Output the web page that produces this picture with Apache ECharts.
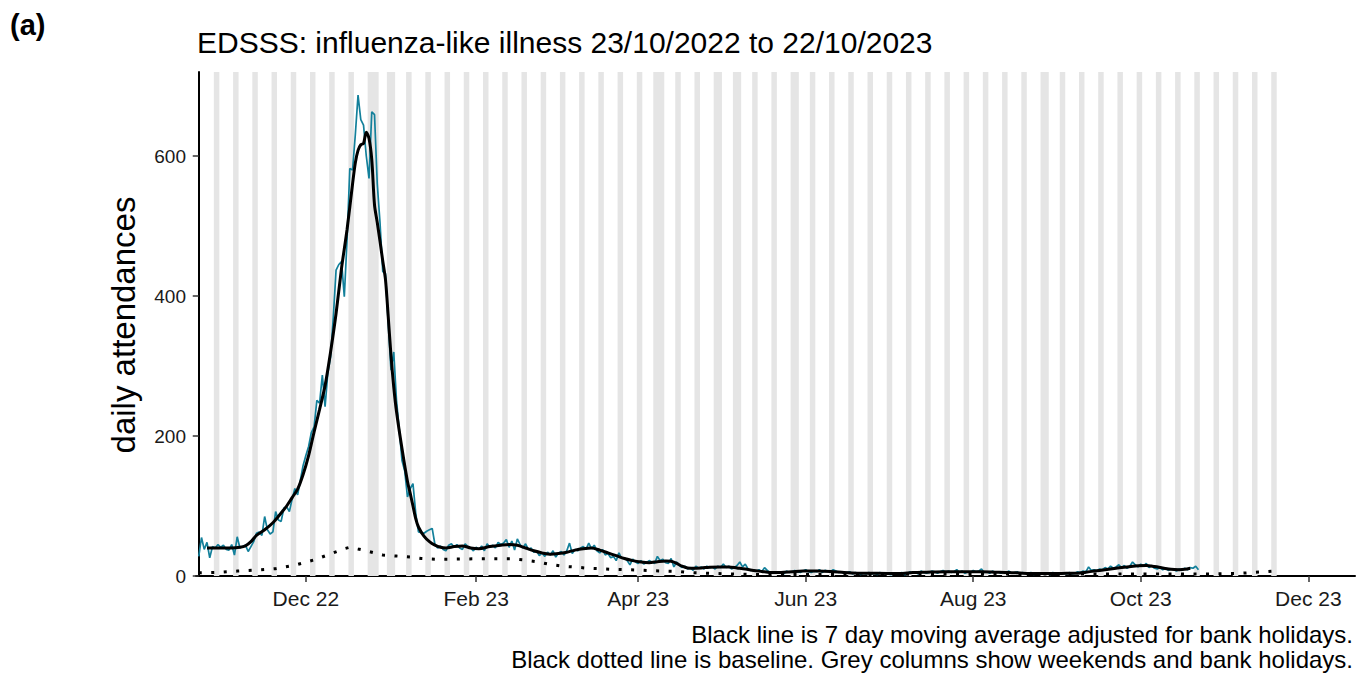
<!DOCTYPE html>
<html><head><meta charset="utf-8">
<script src="https://cdn.jsdelivr.net/npm/echarts@6/dist/echarts.min.js"></script>
<style>html,body{margin:0;padding:0;background:#fff}#c{width:1357px;height:674px}</style>
</head><body><div id="c"></div>
<script>
// Day 0 = 23/10/2022 (Sunday)
const startDate = '2022-10-23';
const dailyAttendances = [
28,55,38,48,26,42,40, 45,41,44,38,37,45,30, 56,40,42,44,35,42,49, 61,63,58,85,66,60,63,
92,80,78,97,99,92,110, 125,116,137,158,172,185,205, 213,251,247,287,242,290,313, 370,437,445,449,399,480,582,
580,630,687,652,644,600,568, 663,659,560,505,435,432,360, 294,320,251,210,165,150,113, 125,132,90,63,62,61,64,
66,68,45,40,43,38,36, 44,46,41,45,40,38,46, 42,40,36,41,38,43,36, 46,41,44,40,48,45,47,
52,41,50,37,53,45,40, 46,38,40,34,36,29,33, 28,34,30,36,27,33,35, 30,36,47,32,38,36,40,
42,38,47,39,44,36,33, 38,30,32,26,28,22,33, 25,26,22,16,24,20,18, 22,17,19,22,20,18,28,
22,24,19,18,25,13,20, 15,12,14,10,12,8,14, 11,13,10,14,12,13,10, 14,12,17,12,14,10,12,
15,20,13,17,10,8,9, 7,9,6,12,8,5,6, 4,6,5,3,7,5,6, 8,6,5,7,9,6,5,
7,6,9,5,8,7,6, 9,7,5,6,4,5,6, 3,5,4,2,4,3,5, 3,4,2,5,3,4,3,
2,3,4,3,5,2,3, 6,4,5,3,7,5,4, 5,7,6,4,6,8,5, 7,5,6,9,5,7,4,
6,5,8,6,7,10,5, 6,4,7,5,6,4,6, 5,7,4,5,6,3,5, 4,3,5,2,4,3,4,
3,4,2,5,3,4,3, 4,3,5,3,4,6,5, 7,6,13,8,9,7,10, 9,12,10,14,11,13,16,
12,15,11,14,20,16,13, 17,14,18,12,15,11,10, 12,9,11,8,10,9,7, 10,8,11,9,12,11,14,
9
];
// 7 day moving average (day index, value)
const maDays = [3,6,9,12,15,17,19,21,24,27,30,32,34,36,38,40,42,44,46,48,50,52,54,56,57,58,59,60,61,62,63,64,65,66,67,68,69,70,71,72,74,76,77,78,79,80,82,84,86,88,90,93,96,99,102,106,110,113,116,119,122,125,128,131,134,137,140,143,146,149,152,155,158,161,164,167,170,172,174,176,178,180,183,186,190,193,196,199,202,205,208,212,216,220,225,230,235,240,247,255,260,265,272,280,285,290,295,300,305,310,316,320,323,326,330,334,338,342,345,348,351,354,357,359,361];
const maValues = [40,40,40,40,41,43,49,58,66,76,90,100,112,124,145,172,206,238,272,320,375,440,495,560,590,608,616,618,634,625,595,530,505,478,450,423,370,315,270,235,182,135,118,100,82,70,57,49,44,41,40,42,43,40,39,42,44,45,44,40,36,33,31,32,34,37,39,40,37,33,29,25,22,20,19,20.5,21.5,21,18,14,11.5,11,11.5,12.5,13,13,11.5,10,8,6.5,5,5,6,7,7,6.5,5,4,3.8,3.5,5,5.5,6,6,6,5.5,5,4,3.5,3.5,3.8,4,5.5,7,9,11,13,14.5,15,13.5,11.5,9.5,9,9.5,11];
// Baseline (day index, value)
const baselineDays = [0,7,14,21,28,35,42,49,53,55,58,60,63,67,72,77,81,86,91,100,114,118,123,128,133,137,142,146,151,156,160,165,170,175,179,184,193,200,207,220,240,260,280,300,320,340,360,370,378,383,387,391];
const baselineValues = [4.5,5,7,8.5,10.5,15.5,23,33,39,41,38.5,37,34,30,28.5,27,25,24,24,24.5,24.5,23,20.5,16.5,13.8,12.8,11,10.5,9.5,9,8.5,7.6,7,6.5,4.8,4.2,3,2.4,2,2,2.2,2.4,2.6,2.8,3,3,3,3,3.6,4.8,5.8,7];
const tickDates = ['2022-12-01','2023-02-01','2023-04-01','2023-06-01','2023-08-01','2023-10-01','2023-12-01'];
const tickLabels = ['Dec 22','Feb 23','Apr 23','Jun 23','Aug 23','Oct 23','Dec 23'];
const yTicks = [0,200,400,600];
const bankHolidays = ['2022-12-26','2022-12-27','2023-01-02','2023-04-07','2023-04-10','2023-05-01','2023-05-08','2023-05-29','2023-08-28'];
const shadeFrom = '2022-10-29', shadeTo = '2023-11-19';

function dayIndex(s){ const p=s.split('-').map(Number); const q=startDate.split('-').map(Number);
  return Math.round((Date.UTC(p[0],p[1]-1,p[2])-Date.UTC(q[0],q[1]-1,q[2]))/86400000); }
const tickDays = tickDates.map(dayIndex);
const bhDays = new Set(bankHolidays.map(dayIndex));
// shaded runs (weekends + bank holidays); day 0 is a Sunday
const runs = [];
for (let d = dayIndex(shadeFrom); d <= dayIndex(shadeTo); d++) {
  const dow = ((d % 7) + 7) % 7; // 0 Sun, 6 Sat
  if (dow === 0 || dow === 6 || bhDays.has(d)) {
    const last = runs[runs.length-1];
    if (last && last[1] === d - 1) last[1] = d; else runs.push([d, d]);
  }
}
const shadeAreas = runs.map(r => [{xAxis: r[0]-0.5}, {xAxis: r[1]+0.5}]);

const daily = dailyAttendances.map((v,i)=>[i,v]);
const ma = maDays.map((d,i)=>[d,maValues[i]]);
const base = baselineDays.map((d,i)=>[d,baselineValues[i]]);

const FONT = 'Liberation Sans, Arial, sans-serif';
const chart = echarts.init(document.getElementById('c'), null, {renderer:'svg'});
chart.setOption({
  animation:false,
  backgroundColor:'#fff',
  grid:{left:196, right:2, top:72, bottom:98, containLabel:false},
  xAxis:{type:'value', min:-1, max:421, splitLine:{show:false},
    axisLine:{show:true, onZero:false, lineStyle:{color:'#000', width:2}},
    axisTick:{show:true, customValues:tickDays, length:6, lineStyle:{color:'#333', width:1.5}},
    axisLabel:{customValues:tickDays, margin:12, fontSize:21, color:'#1a1a1a', fontFamily:FONT,
      formatter:(v)=>{const i=tickDays.indexOf(Math.round(v)); return i>=0?tickLabels[i]:'';}}},
  yAxis:{type:'value', min:0, max:720, interval:200, splitLine:{show:false},
    axisLine:{show:true, lineStyle:{color:'#000', width:2}},
    axisTick:{show:true, customValues:yTicks, length:6, lineStyle:{color:'#333', width:1.5}},
    axisLabel:{customValues:yTicks, margin:10, fontSize:19, color:'#1a1a1a', fontFamily:FONT}},
  graphic:[
    {type:'text', left:10, top:10, style:{text:'(a)', fontSize:29, fontWeight:'bold', fontFamily:FONT, fill:'#000'}},
    {type:'text', x:197, y:42, style:{text:'EDSSS: influenza-like illness 23/10/2022 to 22/10/2023', fontSize:30, fontFamily:FONT, fill:'#000', align:'left', verticalAlign:'middle'}},
    {type:'text', x:123, y:325, rotation:Math.PI/2, style:{text:'daily attendances', fontSize:33, fontFamily:FONT, fill:'#000', align:'center', verticalAlign:'middle'}},
    {type:'text', x:1353, y:634, style:{text:'Black line is 7 day moving average adjusted for bank holidays.', fontSize:24, fontFamily:FONT, fill:'#000', align:'right', verticalAlign:'middle'}},
    {type:'text', x:1353, y:659, style:{text:'Black dotted line is baseline. Grey columns show weekends and bank holidays.', fontSize:24, fontFamily:FONT, fill:'#000', align:'right', verticalAlign:'middle'}}
  ],
  series:[
    {type:'line', data:[], z:1, silent:true,
      markArea:{silent:true, itemStyle:{color:'#e5e5e5'}, data:shadeAreas}},
    {type:'line', data:daily, z:2, showSymbol:false, symbol:'none', lineStyle:{color:'#13809b', width:1.7}},
    {type:'line', data:base, z:3, showSymbol:false, symbol:'none', lineStyle:{color:'#000', width:3, type:[3,9.5], cap:'butt'}},
    {type:'line', data:ma, z:4, showSymbol:false, symbol:'none', smooth:0.3, lineStyle:{color:'#000', width:3}}
  ]
});
</script></body></html>
